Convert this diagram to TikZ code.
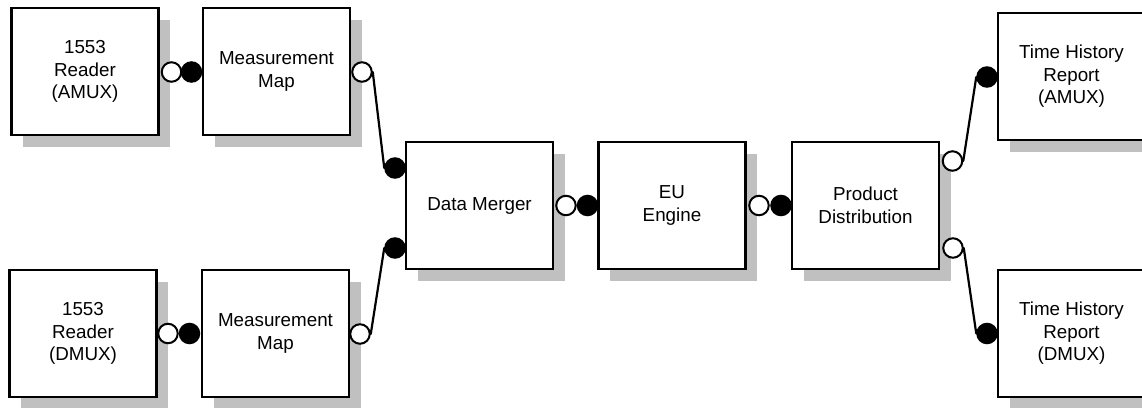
\documentclass[tikz,border=0pt]{standalone}
\usepackage{fontspec}
\setmainfont{Liberation Sans}
\usetikzlibrary{shadows}
\definecolor{shadowgray}{RGB}{192,192,192}
\tikzset{
  box/.style={draw=black, line width=2.2pt, fill=white, minimum width=147pt, minimum height=127pt,
    inner sep=0pt, align=center, font=\fontsize{18.8}{22.5}\selectfont,
    general shadow={fill=shadowgray, shadow xshift=11.5pt, shadow yshift=-11.5pt}},
  opensock/.style={circle, draw=black, fill=white, line width=2pt, minimum size=19.5pt, inner sep=0pt},
  fillsock/.style={circle, draw=black, fill=black, line width=2pt, minimum size=19.5pt, inner sep=0pt},
  wire/.style={line width=2.2pt, line cap=round}
}
\begin{document}
\begin{tikzpicture}[x={(1pt,0pt)}, y={(0pt,-1pt)}]
\useasboundingbox (0,0) rectangle (1142,407);
\clip (0,0) rectangle (1142,407);
% boxes
\node[box] (ra) at (85,71.5) {1553\\Reader\\(AMUX)};
\node[box] (ma) at (276.5,71.5) {Measurement\\Map};
\node[box] (rd) at (83,333.5) {1553\\Reader\\(DMUX)};
\node[box] (md) at (275.5,333.5) {Measurement\\Map};
\node[box] (dm) at (479.5,205.5) {Data Merger};
\node[box] (eu) at (672,205.5) {EU\\Engine};
\node[box] (pd) at (865.5,205.5) {Product\\Distribution};
\node[box] (ta) at (1071.5,76.5) {Time History\\Report\\(AMUX)};
\node[box] (td) at (1071.5,333.5) {Time History\\Report\\(DMUX)};
% sockets
\node[opensock] (o1) at (171.5,72) {};
\node[fillsock] (f1) at (191.5,72) {};
\node[opensock] (o2) at (168,333.5) {};
\node[fillsock] (f2) at (189.5,333.5) {};
\node[opensock] (o3) at (362,72) {};
\node[fillsock] (f3) at (395,168) {};
\node[opensock] (o4) at (360,334) {};
\node[fillsock] (f4) at (395,248) {};
\node[opensock] (o5) at (566,205.5) {};
\node[fillsock] (f5) at (587.5,205.5) {};
\node[opensock] (o6) at (759,205.5) {};
\node[fillsock] (f6) at (781,205.5) {};
\node[opensock] (o7) at (952.5,161) {};
\node[fillsock] (f7) at (987,77) {};
\node[opensock] (o8) at (953,248) {};
\node[fillsock] (f8) at (987,333.5) {};
% wires
\draw[wire] (o3.east) -- (f3.west);
\draw[wire] (o4.east) -- (f4.west);
\draw[wire] (o7.east) -- (f7.west);
\draw[wire] (o8.east) -- (f8.west);
\end{tikzpicture}
\end{document}
